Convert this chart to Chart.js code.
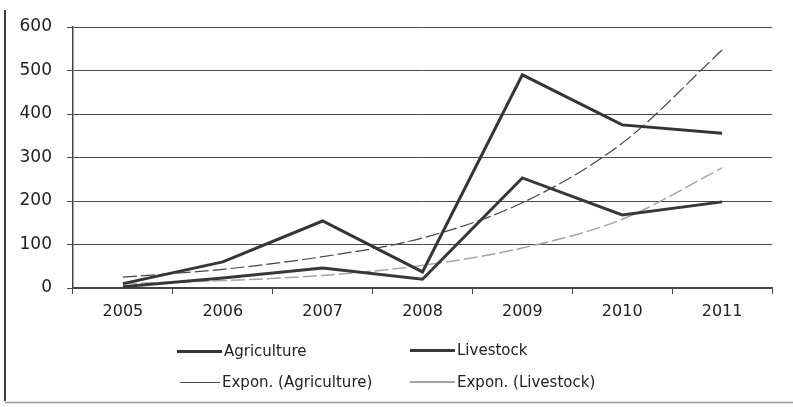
<!DOCTYPE html>
<html>
<head>
<meta charset="utf-8">
<script src="https://cdn.jsdelivr.net/npm/chart.js@4/dist/chart.umd.min.js"></script>
<style>
  html, body { margin: 0; padding: 0; background: #fff; }
  #wrap { position: relative; width: 793px; height: 407px; }
  #legend { position: absolute; left: 0; top: 0; width: 793px; height: 407px; pointer-events: none;
            font-family: "DejaVu Sans", sans-serif; font-size: 15px; color: #222; }
  .item { position: absolute; display: flex; align-items: center; white-space: nowrap; }
  .swatch { display: inline-block; margin-right: 2px; }
</style>
</head>
<body>
<div id="wrap">
  <canvas id="c" width="793" height="407"></canvas>
  <div id="legend"></div>
</div>
<script>
// Years on the horizontal axis
const years = ['2005', '2006', '2007', '2008', '2009', '2010', '2011'];

// Observed series
const agriculture = [10, 60, 154, 37, 490, 375, 356];
const livestock = [3, 23, 46, 20, 253, 168, 198];

// Exponential trend lines for each series
const exponAgriculture = [25, 43, 72, 115, 196, 333, 547];
const exponLivestock = [10, 17, 29, 52, 92, 158, 276];

// Value axis ticks
const yTicks = [0, 100, 200, 300, 400, 500, 600];

const seriesNames = ['Agriculture', 'Livestock', 'Expon. (Agriculture)', 'Expon. (Livestock)'];

// Outer frame: left edge and bottom edge of the chart box
const frame = {
  id: 'frame',
  afterDraw(chart) {
    const ctx = chart.ctx;
    ctx.save();
    ctx.strokeStyle = '#3c3c3c';
    ctx.lineWidth = 2;
    ctx.beginPath();
    ctx.moveTo(5, 10);
    ctx.lineTo(5, 401);
    ctx.stroke();
    ctx.strokeStyle = '#9a9a9a';
    ctx.lineWidth = 1.5;
    ctx.beginPath();
    ctx.moveTo(5, 402.5);
    ctx.lineTo(793, 402.5);
    ctx.stroke();
    ctx.restore();
  }
};

const chart = new Chart(document.getElementById('c'), {
  type: 'line',
  data: {
    labels: years,
    datasets: [
      { label: seriesNames[0], data: agriculture, borderColor: '#353535', borderWidth: 3,
        pointRadius: 0, tension: 0, order: 1 },
      { label: seriesNames[1], data: livestock, borderColor: '#383838', borderWidth: 3,
        pointRadius: 0, tension: 0, order: 2 },
      { label: seriesNames[2], data: exponAgriculture, borderColor: '#454545', borderWidth: 1.2,
        borderDash: [14, 4], pointRadius: 0, cubicInterpolationMode: 'monotone', order: 3 },
      { label: seriesNames[3], data: exponLivestock, borderColor: '#a5a5a5', borderWidth: 1.5,
        borderDash: [14, 4], pointRadius: 0, cubicInterpolationMode: 'monotone', order: 4 }
    ]
  },
  options: {
    responsive: false,
    animation: false,
    events: [],
    layout: { padding: { left: 0, right: 21, top: 27, bottom: 0 } },
    plugins: { legend: { display: false }, tooltip: { enabled: false } },
    scales: {
      x: {
        offset: true,
        grid: { display: true, drawOnChartArea: false, offset: true, tickLength: 6, color: '#444', lineWidth: 1 },
        border: { display: true, color: '#444', width: 1.5 },
        ticks: { color: '#222', font: { family: 'DejaVu Sans', size: 16 }, padding: 8, maxRotation: 0 },
        afterFit(scale) { scale.height = 119; }
      },
      y: {
        min: 0, max: 600,
        afterBuildTicks(scale) { scale.ticks = yTicks.map(v => ({ value: v })); },
        grid: { color: '#4a4a4a', lineWidth: 1, tickLength: 6 },
        border: { display: true, color: '#444', width: 1.5 },
        ticks: { color: '#222', font: { family: 'DejaVu Sans', size: 17 }, padding: 15 },
        afterFit(scale) { scale.width = 73; }
      }
    }
  },
  plugins: [frame]
});

// Two-row legend built from the chart's datasets
const slots = [
  { left: 177, top: 341, sw: 45 },
  { left: 410, top: 340, sw: 45 },
  { left: 180, top: 372, sw: 40 },
  { left: 410, top: 372, sw: 45 }
];
const legend = document.getElementById('legend');
chart.data.datasets.forEach((ds, i) => {
  const s = slots[i];
  const item = document.createElement('div');
  item.className = 'item';
  item.style.left = s.left + 'px';
  item.style.top = s.top + 'px';
  item.style.height = '20px';
  const sw = document.createElement('span');
  sw.className = 'swatch';
  sw.style.width = s.sw + 'px';
  sw.style.height = '0px';
  sw.style.borderTop = (ds.borderWidth >= 2 ? 3 : (i === 3 ? 2 : 1)) + 'px solid ' + ds.borderColor;
  const tx = document.createElement('span');
  tx.textContent = ds.label;
  item.appendChild(sw);
  item.appendChild(tx);
  legend.appendChild(item);
});
</script>
</body>
</html>
